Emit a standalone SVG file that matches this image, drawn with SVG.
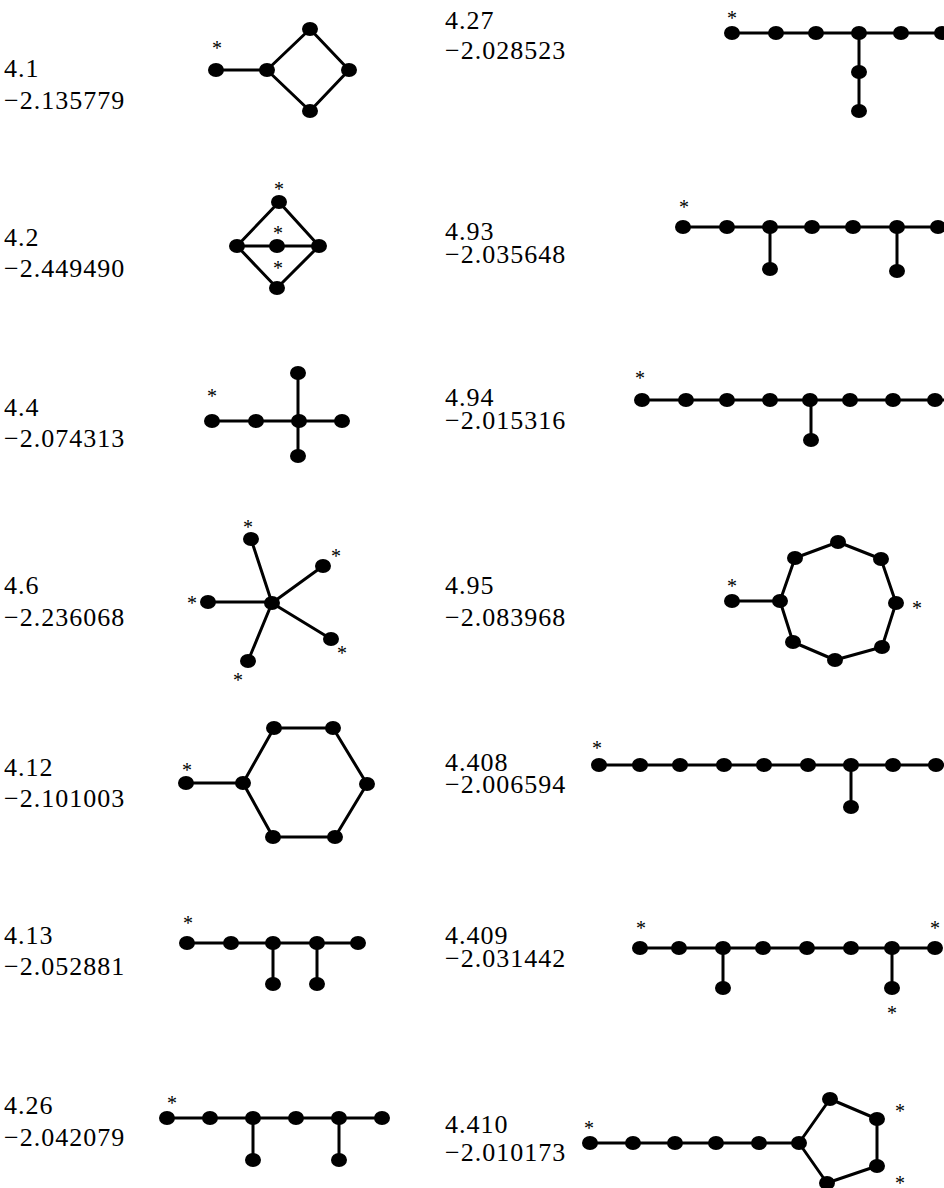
<svg xmlns="http://www.w3.org/2000/svg" width="944" height="1188" viewBox="0 0 944 1188">
<style>
.lbl{font-family:"Liberation Serif","Times New Roman",serif;font-size:26px;letter-spacing:1px;fill:#000}
.ast{font-family:"Liberation Serif","Times New Roman",serif;font-size:20px;fill:#000;text-anchor:middle}
.e{stroke:#000;stroke-width:3;fill:none;stroke-linejoin:round}
.n{fill:#000}
</style>
<defs><ellipse id="v" rx="8" ry="7" class="n"/></defs>
<rect width="944" height="1188" fill="#fff"/>

<g id="labels">
<text class="lbl" x="4" y="77">4.1</text><text class="lbl" x="4" y="109">−2.135779</text>
<text class="lbl" x="4" y="246">4.2</text><text class="lbl" x="4" y="277">−2.449490</text>
<text class="lbl" x="4" y="416">4.4</text><text class="lbl" x="4" y="447">−2.074313</text>
<text class="lbl" x="4" y="594">4.6</text><text class="lbl" x="4" y="626">−2.236068</text>
<text class="lbl" x="4" y="776">4.12</text><text class="lbl" x="4" y="807">−2.101003</text>
<text class="lbl" x="4" y="944">4.13</text><text class="lbl" x="4" y="975">−2.052881</text>
<text class="lbl" x="4" y="1114">4.26</text><text class="lbl" x="4" y="1146">−2.042079</text>
<text class="lbl" x="445" y="29">4.27</text><text class="lbl" x="445" y="59">−2.028523</text>
<text class="lbl" x="445" y="240">4.93</text><text class="lbl" x="445" y="263">−2.035648</text>
<text class="lbl" x="445" y="406">4.94</text><text class="lbl" x="445" y="429">−2.015316</text>
<text class="lbl" x="445" y="594">4.95</text><text class="lbl" x="445" y="626">−2.083968</text>
<text class="lbl" x="445" y="771">4.408</text><text class="lbl" x="445" y="793">−2.006594</text>
<text class="lbl" x="445" y="944">4.409</text><text class="lbl" x="445" y="967">−2.031442</text>
<text class="lbl" x="445" y="1133">4.410</text><text class="lbl" x="445" y="1161">−2.010173</text>
</g>

<g id="connectors" class="e">
<path d="M216,70H267M267,70L310,29L349,70L310,111Z"/>
<path d="M237,246L279,202L319,246L277,288ZM237,246H319"/>
<path d="M212,421H342M298,373V456"/>
<path d="M208,602H272M272,603L251,539M272,603L323,566M272,603L331,639M272,603L248,661"/>
<path d="M186,783H243M243,783L274,728H333L367,784L335,837H273Z"/>
<path d="M187,943H358M273,943V984M317,943V984"/>
<path d="M167,1118H382M253,1118V1160M339,1118V1160"/>
<path d="M732,33H944M859,33V111"/>
<path d="M683,227H944M770,227V269M897,227V271"/>
<path d="M642,400H944M811,400V440"/>
<path d="M732,601H780M780,601L795,558L838,542L881,559L896,603L882,647L835,660L793,642Z"/>
<path d="M599,765H944M851,765V807"/>
<path d="M640,948H935M723,948V988M892,948V988"/>
<path d="M590,1143H799M799,1143L830,1099L877,1119V1166L827,1183Z"/>
</g>

<g id="g4_1">
<use href="#v" x="216" y="70"/><use href="#v" x="267" y="70"/><use href="#v" x="310" y="29"/><use href="#v" x="349" y="70"/><use href="#v" x="310" y="111"/>
<text class="ast" x="217" y="55">*</text>
</g>
<g id="g4_2">
<use href="#v" x="279" y="202"/><use href="#v" x="237" y="246"/><use href="#v" x="277" y="246"/><use href="#v" x="319" y="246"/><use href="#v" x="277" y="288"/>
<text class="ast" x="279" y="196">*</text><text class="ast" x="278" y="240">*</text><text class="ast" x="278" y="275">*</text>
</g>
<g id="g4_4">
<use href="#v" x="212" y="421"/><use href="#v" x="256" y="421"/><use href="#v" x="299" y="421"/><use href="#v" x="342" y="421"/><use href="#v" x="298" y="373"/><use href="#v" x="298" y="456"/>
<text class="ast" x="212" y="403">*</text>
</g>
<g id="g4_6">
<use href="#v" x="272" y="603"/><use href="#v" x="208" y="602"/><use href="#v" x="251" y="539"/><use href="#v" x="323" y="566"/><use href="#v" x="331" y="639"/><use href="#v" x="248" y="661"/>
<text class="ast" x="248" y="534">*</text><text class="ast" x="336" y="563">*</text><text class="ast" x="192" y="610">*</text><text class="ast" x="342" y="660">*</text><text class="ast" x="238" y="687">*</text>
</g>
<g id="g4_12">
<use href="#v" x="186" y="783"/><use href="#v" x="243" y="783"/><use href="#v" x="274" y="728"/><use href="#v" x="333" y="728"/><use href="#v" x="367" y="784"/><use href="#v" x="335" y="837"/><use href="#v" x="273" y="837"/>
<text class="ast" x="187" y="777">*</text>
</g>
<g id="g4_13">
<use href="#v" x="187" y="943"/><use href="#v" x="231" y="943"/><use href="#v" x="273" y="943"/><use href="#v" x="317" y="943"/><use href="#v" x="358" y="943"/><use href="#v" x="273" y="984"/><use href="#v" x="317" y="984"/>
<text class="ast" x="188" y="930">*</text>
</g>
<g id="g4_26">
<use href="#v" x="167" y="1118"/><use href="#v" x="210" y="1118"/><use href="#v" x="253" y="1118"/><use href="#v" x="296" y="1118"/><use href="#v" x="339" y="1118"/><use href="#v" x="382" y="1118"/><use href="#v" x="253" y="1160"/><use href="#v" x="339" y="1160"/>
<text class="ast" x="172" y="1110">*</text>
</g>
<g id="g4_27">
<use href="#v" x="732" y="33"/><use href="#v" x="776" y="33"/><use href="#v" x="816" y="33"/><use href="#v" x="859" y="33"/><use href="#v" x="901" y="33"/><use href="#v" x="942" y="33"/><use href="#v" x="859" y="72"/><use href="#v" x="859" y="111"/>
<text class="ast" x="732" y="25">*</text>
</g>
<g id="g4_93">
<use href="#v" x="683" y="227"/><use href="#v" x="727" y="227"/><use href="#v" x="770" y="227"/><use href="#v" x="812" y="227"/><use href="#v" x="853" y="227"/><use href="#v" x="897" y="227"/><use href="#v" x="938" y="227"/><use href="#v" x="770" y="269"/><use href="#v" x="897" y="271"/>
<text class="ast" x="684" y="214">*</text>
</g>
<g id="g4_94">
<use href="#v" x="642" y="400"/><use href="#v" x="686" y="400"/><use href="#v" x="727" y="400"/><use href="#v" x="770" y="400"/><use href="#v" x="810" y="400"/><use href="#v" x="850" y="400"/><use href="#v" x="893" y="400"/><use href="#v" x="935" y="400"/><use href="#v" x="811" y="440"/>
<text class="ast" x="640" y="385">*</text>
</g>
<g id="g4_95">
<use href="#v" x="732" y="601"/><use href="#v" x="780" y="601"/><use href="#v" x="795" y="558"/><use href="#v" x="838" y="542"/><use href="#v" x="881" y="559"/><use href="#v" x="896" y="603"/><use href="#v" x="882" y="647"/><use href="#v" x="835" y="660"/><use href="#v" x="793" y="642"/>
<text class="ast" x="732" y="593">*</text><text class="ast" x="917" y="615">*</text>
</g>
<g id="g4_408">
<use href="#v" x="599" y="765"/><use href="#v" x="640" y="765"/><use href="#v" x="680" y="765"/><use href="#v" x="724" y="765"/><use href="#v" x="764" y="765"/><use href="#v" x="808" y="765"/><use href="#v" x="851" y="765"/><use href="#v" x="893" y="765"/><use href="#v" x="936" y="765"/><use href="#v" x="851" y="807"/>
<text class="ast" x="597" y="755">*</text>
</g>
<g id="g4_409">
<use href="#v" x="640" y="948"/><use href="#v" x="679" y="948"/><use href="#v" x="723" y="948"/><use href="#v" x="763" y="948"/><use href="#v" x="807" y="948"/><use href="#v" x="851" y="948"/><use href="#v" x="892" y="948"/><use href="#v" x="935" y="948"/><use href="#v" x="723" y="988"/><use href="#v" x="892" y="988"/>
<text class="ast" x="641" y="935">*</text><text class="ast" x="935" y="935">*</text><text class="ast" x="892" y="1020">*</text>
</g>
<g id="g4_410">
<use href="#v" x="590" y="1143"/><use href="#v" x="633" y="1143"/><use href="#v" x="675" y="1143"/><use href="#v" x="716" y="1143"/><use href="#v" x="759" y="1143"/><use href="#v" x="799" y="1143"/><use href="#v" x="830" y="1099"/><use href="#v" x="877" y="1119"/><use href="#v" x="877" y="1166"/><use href="#v" x="827" y="1183"/>
<text class="ast" x="589" y="1135">*</text><text class="ast" x="900" y="1118">*</text><text class="ast" x="900" y="1190">*</text>
</g>
</svg>
